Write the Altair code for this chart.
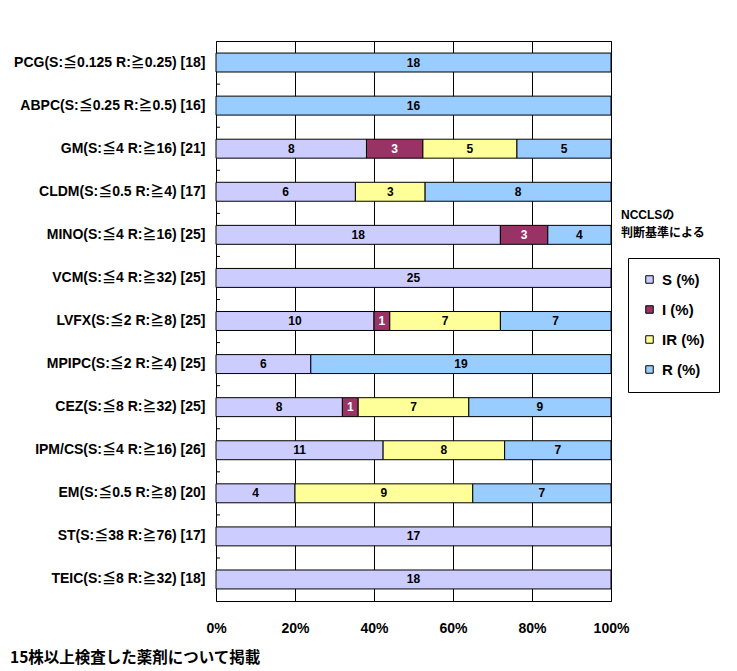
import altair as alt
import pandas as pd

drugs = [
    "PCG(S:≦0.125 R:≧0.25) [18]",
    "ABPC(S:≦0.25 R:≧0.5) [16]",
    "GM(S:≦4 R:≧16) [21]",
    "CLDM(S:≦0.5 R:≧4) [17]",
    "MINO(S:≦4 R:≧16) [25]",
    "VCM(S:≦4 R:≧32) [25]",
    "LVFX(S:≦2 R:≧8) [25]",
    "MPIPC(S:≦2 R:≧4) [25]",
    "CEZ(S:≦8 R:≧32) [25]",
    "IPM/CS(S:≦4 R:≧16) [26]",
    "EM(S:≦0.5 R:≧8) [20]",
    "ST(S:≦38 R:≧76) [17]",
    "TEIC(S:≦8 R:≧32) [18]",
]
s_vals = [0, 0, 8, 6, 18, 25, 10, 6, 8, 11, 4, 17, 18]
i_vals = [0, 0, 3, 0, 3, 0, 1, 0, 1, 0, 0, 0, 0]
ir_vals = [0, 0, 5, 3, 0, 0, 7, 0, 7, 8, 9, 0, 0]
r_vals = [18, 16, 5, 8, 4, 0, 7, 19, 9, 7, 7, 0, 0]
categories = ["S (%)", "I (%)", "IR (%)", "R (%)"]
colors = ["#CCCCFF", "#993366", "#FFFF99", "#99CCFF"]
x_ticks = [0, 0.2, 0.4, 0.6, 0.8, 1.0]
legend_note = ["NCCLSの", "判断基準による"]
footnote = "15株以上検査した薬剤について掲載"

FONT = "Liberation Sans Narrow, Liberation Sans, Noto Sans CJK JP, sans-serif"
JFONT = "Noto Sans CJK JP, sans-serif"

rows = []
series = [s_vals, i_vals, ir_vals, r_vals]
for d_i, drug in enumerate(drugs):
    total = sum(s[d_i] for s in series)
    cum = 0
    for c_i, cat in enumerate(categories):
        n = series[c_i][d_i]
        if n == 0:
            continue
        start = cum / total
        cum += n
        end = cum / total
        rows.append({
            "drug": drug, "cat": cat, "n": n,
            "start": start, "end": end, "mid": (start + end) / 2,
            "tc": "white" if cat == "I (%)" else "black",
        })
df = pd.DataFrame(rows)

ysort = drugs
yscale = alt.Scale(paddingInner=0.56, paddingOuter=0.28)

bars = alt.Chart(df).mark_bar(stroke="black", strokeWidth=1, opacity=1).encode(
    y=alt.Y("drug:N", sort=ysort, scale=yscale, title=None,
            axis=alt.Axis(labelFont=FONT, labelFontSize=14, labelFontWeight="bold",
                          labelColor="black", labelPadding=11, ticks=False,
                          domain=False, labelLimit=400)),
    x=alt.X("start:Q", scale=alt.Scale(domain=[0, 1], nice=False), title=None,
            axis=alt.Axis(format="%", values=x_ticks, grid=True, gridColor="black",
                          gridOpacity=1, gridWidth=1, ticks=False, domain=False,
                          labelPadding=20, labelFont=FONT, labelFontSize=14,
                          labelFontWeight="bold", labelColor="black",
                          labelFlush=False, labelOverlap=False)),
    x2="end:Q",
    color=alt.Color("cat:N", sort=categories,
                    scale=alt.Scale(domain=categories, range=colors), title=None,
                    legend=alt.Legend(orient="none", legendX=412, legendY=217,
                                      strokeColor="black", fillColor="white",
                                      padding=14, symbolType="square", symbolSize=56,
                                      symbolStrokeColor="black", symbolStrokeWidth=1,
                                      symbolOpacity=1, labelFont="Liberation Sans",
                                      labelFontSize=15, labelFontWeight="bold",
                                      labelColor="black", rowPadding=14,
                                      labelOffset=5)),
)

labels = alt.Chart(df).mark_text(font=FONT, fontSize=12, fontWeight="bold").encode(
    y=alt.Y("drug:N", sort=ysort, scale=yscale),
    x=alt.X("mid:Q"),
    text=alt.Text("n:Q"),
    fill=alt.Fill("tc:N", scale=None),
)

tick_df = pd.DataFrame({"drug": drugs[1:]})
ticks = alt.Chart(tick_df).mark_rule(color="black", strokeWidth=1, yOffset=-12).encode(
    y=alt.Y("drug:N", sort=ysort, scale=yscale, bandPosition=0),
    x=alt.value(0),
    x2=alt.value(4),
)

note = alt.Chart(pd.DataFrame({"t": [legend_note]})).mark_text(
    font=FONT, fontSize=12, fontWeight="bold", align="left", baseline="middle",
    lineHeight=18, color="black"
).encode(x=alt.value(405), y=alt.value(174), text="t")

foot = alt.Chart(pd.DataFrame({"t": [footnote]})).mark_text(
    font=JFONT, fontSize=15.5, fontWeight="bold", align="left", baseline="middle",
    color="black"
).encode(x=alt.value(-206), y=alt.value(617), text="t")

chart = alt.layer(bars, labels, ticks, note, foot).properties(
    width=395, height=560,
    padding={"left": 208, "top": 33, "right": 110, "bottom": 68},
    autosize=alt.AutoSizeParams(type="none"),
    background="white",
).configure_view(stroke="black", strokeWidth=1)

chart.save("out.html", embed_options={"renderer": "svg", "actions": False})
